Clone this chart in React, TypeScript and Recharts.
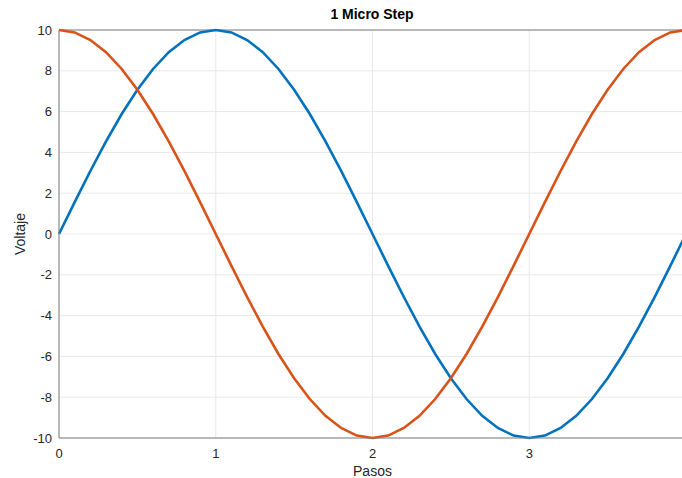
import React from "react";
import {
  LineChart,
  Line,
  XAxis,
  YAxis,
  CartesianGrid,
  ReferenceLine,
  Label,
} from "recharts";

// steps (x) and the two phase voltages
const pasos = [
  0, 0.1, 0.2, 0.3, 0.4, 0.5, 0.6, 0.7, 0.8, 0.9, 1, 1.1, 1.2, 1.3, 1.4, 1.5,
  1.6, 1.7, 1.8, 1.9, 2, 2.1, 2.2, 2.3, 2.4, 2.5, 2.6, 2.7, 2.8, 2.9, 3, 3.1,
  3.2, 3.3, 3.4, 3.5, 3.6, 3.7, 3.8, 3.9, 4,
];
const faseA = [
  0, 1.56, 3.09, 4.54, 5.88, 7.07, 8.09, 8.91, 9.51, 9.88, 10, 9.88, 9.51,
  8.91, 8.09, 7.07, 5.88, 4.54, 3.09, 1.56, 0, -1.56, -3.09, -4.54, -5.88,
  -7.07, -8.09, -8.91, -9.51, -9.88, -10, -9.88, -9.51, -8.91, -8.09, -7.07,
  -5.88, -4.54, -3.09, -1.56, 0,
];
const faseB = [
  10, 9.88, 9.51, 8.91, 8.09, 7.07, 5.88, 4.54, 3.09, 1.56, 0, -1.56, -3.09,
  -4.54, -5.88, -7.07, -8.09, -8.91, -9.51, -9.88, -10, -9.88, -9.51, -8.91,
  -8.09, -7.07, -5.88, -4.54, -3.09, -1.56, 0, 1.56, 3.09, 4.54, 5.88, 7.07,
  8.09, 8.91, 9.51, 9.88, 10,
];
const xTicks = [0, 1, 2, 3];
const yTicks = [-10, -8, -6, -4, -2, 0, 2, 4, 6, 8, 10];

const data = pasos.map((x, i) => ({ x, a: faseA[i], b: faseB[i] }));

const FONT = "'Liberation Sans', Arial, Helvetica, sans-serif";
const TXT = "#262626";
const BOX = "#7f7f7f";

export default function App() {
  return (
    <div
      style={{
        position: "fixed",
        left: 0,
        top: 0,
        width: 682,
        height: 478,
        overflow: "hidden",
        background: "#fff",
        fontFamily: FONT,
      }}
    >
      <LineChart
        width={700}
        height={478}
        data={data}
        margin={{ top: 30, right: 14, bottom: 0, left: 0 }}
      >
        <CartesianGrid stroke="#e8e8e8" strokeWidth={1} />
        <XAxis
          dataKey="x"
          type="number"
          domain={[0, 4]}
          ticks={xTicks}
          height={40}
          stroke={BOX}
          tickLine={false}
          tickSize={0}
          tickMargin={11}
          tick={{ fill: TXT, fontSize: 13, fontFamily: FONT }}
        >
          <Label
            value="Pasos"
            position="insideBottom"
            offset={2}
            fill={TXT}
            fontSize={14}
            fontFamily={FONT}
          />
        </XAxis>
        <YAxis
          type="number"
          domain={[-10, 10]}
          ticks={yTicks}
          width={59}
          stroke={BOX}
          tickLine={false}
          tickSize={0}
          tickMargin={7}
          tick={{ fill: TXT, fontSize: 13, fontFamily: FONT }}
        >
          <Label
            value="Voltaje"
            angle={-90}
            position="insideLeft"
            offset={20}
            style={{ textAnchor: "middle" }}
            fill={TXT}
            fontSize={14}
            fontFamily={FONT}
          />
        </YAxis>
        <ReferenceLine y={10} stroke={BOX} />
        <ReferenceLine x={4} stroke={BOX} />
        <Line
          dataKey="a"
          stroke="#0072BD"
          strokeWidth={2.6}
          dot={false}
          isAnimationActive={false}
        />
        <Line
          dataKey="b"
          stroke="#D95319"
          strokeWidth={2.6}
          dot={false}
          isAnimationActive={false}
        />
        <text
          x={372}
          y={19}
          textAnchor="middle"
          fill="#000"
          fontSize={14}
          fontWeight="bold"
          fontFamily={FONT}
        >
          1 Micro Step
        </text>
      </LineChart>
    </div>
  );
}
